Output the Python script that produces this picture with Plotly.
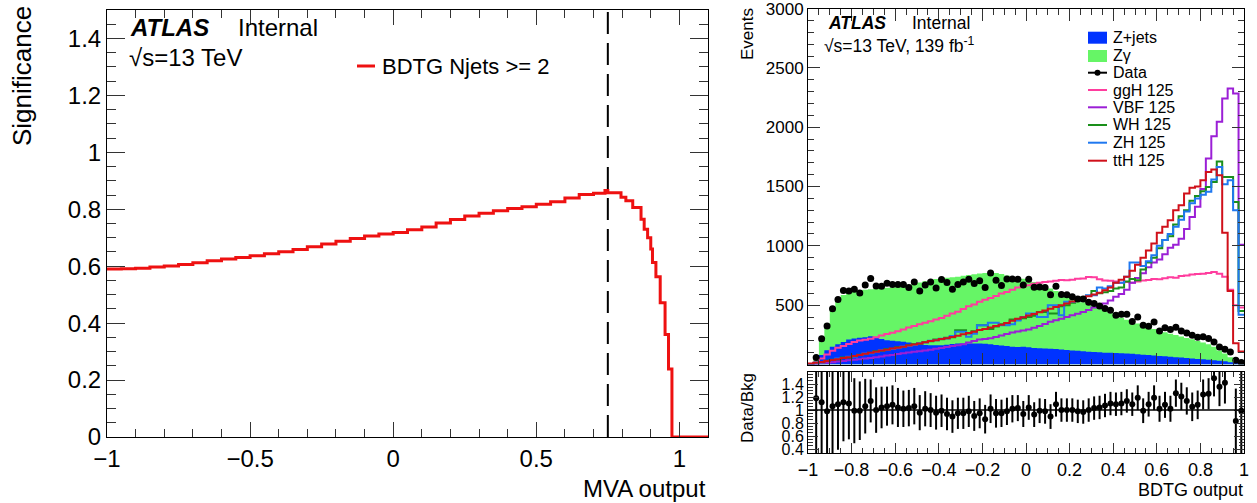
import numpy as np
import plotly.graph_objects as go

W, H = 1257, 503
def fx(p):
    return p / W
def fy(p):
    return 1 - p / H

FONT = "Liberation Sans, Arial, sans-serif"

# ---------------- left panel: significance vs cut ----------------
sig_cut = [-1.00, -0.95, -0.90, -0.85, -0.80, -0.75, -0.70, -0.65, -0.60, -0.55,
           -0.50, -0.45, -0.40, -0.35, -0.30, -0.25, -0.20, -0.15, -0.10, -0.05,
           0.00, 0.05, 0.10, 0.15, 0.20, 0.25, 0.30, 0.35, 0.40, 0.45,
           0.50, 0.55, 0.60, 0.65, 0.70, 0.74, 0.75, 0.796, 0.813, 0.837,
           0.866, 0.877, 0.889, 0.900, 0.906, 0.918, 0.933, 0.950, 0.962, 0.974,
           1.10]
sig_val = [0.590, 0.591, 0.593, 0.597, 0.601, 0.606, 0.612, 0.619, 0.625, 0.631,
           0.637, 0.644, 0.651, 0.659, 0.668, 0.678, 0.688, 0.697, 0.706, 0.713,
           0.718, 0.728, 0.738, 0.752, 0.764, 0.776, 0.786, 0.795, 0.803, 0.809,
           0.818, 0.826, 0.840, 0.852, 0.856, 0.866, 0.858, 0.842, 0.830, 0.806,
           0.765, 0.730, 0.700, 0.660, 0.613, 0.563, 0.472, 0.360, 0.239, 0.0,
           0.0]
best_cut = 0.75
left_legend = "BDTG Njets &gt;= 2"

# ---------------- right panel: BDTG output histograms ----------------
bin_lo, bin_hi, n_bins = -1.0, 1.0, 80

zjets = [0, 25, 80, 120, 150, 170, 190, 210, 219, 225,
         230, 238, 230, 215, 205, 200, 195, 191, 185, 178,
         170, 165, 163, 162, 163, 166, 172, 176, 178, 177,
         177, 177, 175, 170, 165, 160, 155, 150, 148, 150,
         145, 140, 138, 135, 132, 130, 126, 122, 118, 115,
         112, 108, 106, 104, 100, 98, 96, 94, 92, 90,
         86, 83, 80, 76, 72, 70, 66, 62, 58, 54,
         50, 47, 44, 40, 36, 32, 27, 20, 12, 5]

# top of the Z+jets + Zgamma stack
bkg_stack_top = [0, 45, 215, 345, 480, 550, 585, 605, 615, 625,
                 630, 635, 638, 642, 646, 650, 655, 662, 672, 682,
                 692, 702, 712, 720, 726, 732, 736, 740, 748, 754,
                 760, 766, 772, 778, 772, 762, 750, 738, 728, 722,
                 712, 695, 675, 655, 640, 620, 600, 582, 565, 548,
                 525, 505, 488, 470, 452, 432, 412, 395, 378, 362,
                 346, 330, 315, 300, 286, 272, 260, 248, 236, 224,
                 212, 198, 185, 170, 150, 118, 92, 62, 42, 17]

data = [None, 59, 216, 325, 469, 548, 623, 620, 634, 603,
        671, 724, 662, 660, 685, 674, 674, 674, 649, 696,
        620, 671, 696, 645, 716, 691, 634, 674, 696, 719,
        683, 705, 649, 772, 710, 666, 721, 721, 719, 671,
        719, 651, 654, 649, 587, 660, 590, 587, 570, 553,
        553, 525, 515, 494, 472, 458, 415, 424, 424, 362,
        401, 331, 323, 359, 283, 309, 295, 314, 283, 266,
        247, 230, 233, 219, 190, 148, 129, 106, 36, 17]

ggH = [0, 15, 50, 85, 115, 142, 155, 172, 190, 202,
       208, 218, 230, 245, 258, 268, 280, 295, 312, 325,
       340, 352, 365, 380, 392, 410, 430, 445, 468, 490,
       505, 528, 545, 560, 578, 598, 612, 630, 650, 660,
       668, 680, 690, 695, 700, 705, 712, 710, 715, 722,
       725, 738, 735, 718, 708, 705, 700, 690, 695, 688,
       700, 708, 712, 720, 718, 728, 735, 732, 745, 750,
       758, 762, 765, 772, 780, 765, 740, 630, 500, 480]

VBF = [0, 5, 10, 15, 20, 25, 30, 35, 40, 45,
       50, 55, 62, 68, 75, 80, 88, 95, 102, 108,
       112, 118, 125, 132, 140, 148, 155, 162, 170, 185,
       198, 210, 215, 222, 232, 245, 258, 270, 278, 286,
       295, 310, 325, 342, 360, 372, 385, 400, 415, 428,
       442, 460, 480, 495, 515, 540, 570, 595, 630, 690,
       730, 770, 820, 860, 885, 930, 985, 1010, 1060, 1143,
       1243, 1329, 1480, 1736, 1924, 2045, 2241, 2326, 2284, 1010]

WH = [5, 12, 20, 32, 40, 45, 58, 60, 70, 82,
      88, 100, 112, 115, 128, 132, 145, 148, 162, 170,
      175, 190, 195, 210, 212, 225, 230, 289, 289, 262,
      280, 331, 331, 300, 320, 340, 345, 379, 379, 390,
      400, 410, 443, 443, 430, 430, 490, 500, 520, 560,
      565, 580, 620, 600, 610, 620, 640, 650, 700, 720,
      710, 800, 860, 900, 980, 1050, 1080, 1180, 1250, 1300,
      1380, 1420, 1460, 1497, 1539, 1710, 1581, 1581, 1370, 450]

ZH = [5, 10, 18, 30, 38, 50, 55, 65, 68, 80,
      92, 95, 105, 120, 122, 130, 140, 152, 155, 165,
      180, 185, 200, 205, 218, 220, 240, 275, 275, 233,
      260, 331, 331, 351, 351, 331, 331, 340, 370, 400,
      430, 430, 401, 401, 500, 500, 415, 528, 528, 540,
      560, 584, 584, 650, 640, 660, 690, 690, 740, 860,
      860, 830, 870, 920, 1000, 1050, 1100, 1160, 1220, 1290,
      1360, 1400, 1430, 1455, 1560, 1665, 1520, 1553, 1300, 420]

ttH = [8, 15, 22, 30, 38, 45, 55, 62, 72, 80,
       90, 100, 108, 117, 125, 135, 142, 150, 160, 168,
       178, 188, 198, 205, 215, 222, 232, 242, 255, 265,
       275, 290, 300, 312, 325, 335, 350, 368, 385, 398,
       412, 425, 440, 455, 470, 485, 500, 515, 530, 545,
       560, 575, 590, 605, 625, 650, 690, 715, 740, 790,
       840, 900, 960, 1020, 1110, 1160, 1216, 1300, 1342, 1441,
       1490, 1500, 1553, 1623, 1643, 1595, 1110, 620, 180, 110]

ratio = [None, 1.18, 1.12, 0.98, 1.06, 1.09, 1.12, 1.10, 0.99, 0.99,
         1.06, 1.14, 1.00, 1.04, 1.06, 1.08, 1.04, 1.02, 1.03, 1.06,
         0.96, 1.02, 1.00, 0.96, 0.99, 0.94, 0.90, 0.95, 0.95, 0.98,
         0.91, 0.95, 0.86, 1.02, 0.95, 0.95, 0.98, 1.02, 1.03, 0.94,
         1.04, 0.93, 0.99, 0.98, 0.90, 1.09, 1.00, 1.00, 1.00, 0.98,
         0.97, 1.00, 1.03, 1.04, 1.07, 1.10, 1.09, 1.10, 1.14, 1.09,
         1.19, 0.99, 1.09, 1.19, 1.02, 1.08, 1.02, 1.26, 1.21, 1.14,
         1.05, 1.08, 1.24, 1.25, 1.49, 1.36, 1.42, None, 0.83, 0.99]

ratio_err = [0, 0.9, 0.9, 0.9, 0.9, 0.7, 0.6, 0.55, 0.5, 0.45,
             0.42, 0.33, 0.35, 0.32, 0.30, 0.30, 0.30, 0.28, 0.28, 0.28,
             0.27, 0.27, 0.26, 0.26, 0.25, 0.25, 0.25, 0.24, 0.24, 0.24,
             0.23, 0.23, 0.22, 0.22, 0.22, 0.21, 0.21, 0.21, 0.20, 0.20,
             0.19, 0.19, 0.19, 0.19, 0.19, 0.19, 0.18, 0.18, 0.18, 0.18,
             0.18, 0.18, 0.18, 0.18, 0.18, 0.18, 0.18, 0.18, 0.18, 0.18,
             0.19, 0.19, 0.19, 0.19, 0.20, 0.20, 0.20, 0.21, 0.21, 0.21,
             0.22, 0.22, 0.23, 0.24, 0.28, 0.30, 0.32, 0.30, 0.50, 0.90]

signals = [("ggH 125", ggH, "#ff3d9e"),
           ("VBF 125", VBF, "#9b1fd6"),
           ("WH 125", WH, "#1a8f1a"),
           ("ZH 125", ZH, "#1f78f0"),
           ("ttH 125", ttH, "#d0101a")]
c_zjets = "#0033ff"
c_zgam = "#66f566"

edges = np.linspace(bin_lo, bin_hi, n_bins + 1)
centers = 0.5 * (edges[:-1] + edges[1:])

def step_y(vals):
    return list(vals) + [vals[-1]]

fig = go.Figure()

# left
fig.add_trace(go.Scatter(x=sig_cut, y=sig_val, mode="lines",
                         line=dict(color="#ee1111", width=3, shape="hv"),
                         xaxis="x", yaxis="y", showlegend=False))

# right upper: stacked backgrounds
fig.add_trace(go.Scatter(x=edges, y=step_y(bkg_stack_top), mode="lines", fill="tozeroy",
                         fillcolor=c_zgam, line=dict(width=0, shape="hv", color=c_zgam),
                         xaxis="x2", yaxis="y2", showlegend=False))
fig.add_trace(go.Scatter(x=edges, y=step_y(zjets), mode="lines", fill="tozeroy",
                         fillcolor=c_zjets, line=dict(width=0, shape="hv", color=c_zjets),
                         xaxis="x2", yaxis="y2", showlegend=False))
for name, vals, col in signals:
    fig.add_trace(go.Scatter(x=edges, y=step_y(vals), mode="lines",
                             line=dict(color=col, width=2, shape="hv"),
                             xaxis="x2", yaxis="y2", showlegend=False))
fig.add_trace(go.Scatter(x=centers, y=data, mode="markers",
                         marker=dict(color="black", size=7),
                         xaxis="x2", yaxis="y2", showlegend=False))

# ratio
fig.add_trace(go.Scatter(x=centers, y=ratio, mode="markers",
                         marker=dict(color="black", size=6),
                         error_y=dict(type="data", array=ratio_err, color="black",
                                      thickness=2, width=0),
                         xaxis="x3", yaxis="y3", showlegend=False))

axis_common = dict(showgrid=False, zeroline=False, showline=True, linecolor="black",
                   linewidth=1, mirror="allticks", ticks="inside", tickcolor="#333",
                   tickwidth=1, automargin=False, ticklabeloverflow="allow")

fig.update_layout(
    template="none",
    width=W, height=H, margin=dict(l=0, r=0, t=0, b=0, pad=0), autosize=False,
    paper_bgcolor="white", plot_bgcolor="white",
    font=dict(family=FONT, color="black"),
    xaxis=dict(domain=[fx(107), fx(708)], range=[-1, 1.1], anchor="y",
               dtick=0.5, tick0=0, ticklen=15,
               minor=dict(dtick=0.1, ticklen=8, ticks="inside", tickcolor="#333"),
               tickfont=dict(size=24), **axis_common),
    yaxis=dict(domain=[fy(437), fy(10)], range=[0, 1.5], anchor="x",
               dtick=0.2, tick0=0, ticklen=18,
               minor=dict(dtick=0.05, ticklen=9, ticks="inside", tickcolor="#333"),
               tickfont=dict(size=24), **axis_common),
    xaxis2=dict(domain=[fx(808), fx(1244)], range=[bin_lo, bin_hi], anchor="y2",
                dtick=0.2, tick0=0, ticklen=12, showticklabels=False,
                minor=dict(dtick=0.05, ticklen=6, ticks="inside", tickcolor="#333"),
                **axis_common),
    yaxis2=dict(domain=[fy(364.5), fy(8.5)], range=[0, 3000.5], anchor="x2",
                tickvals=[500, 1000, 1500, 2000, 2500, 3000], ticklen=12,
                minor=dict(dtick=100, ticklen=6, ticks="inside", tickcolor="#333"),
                tickfont=dict(size=17), **axis_common),
    xaxis3=dict(domain=[fx(808), fx(1244)], range=[bin_lo, bin_hi], anchor="y3",
                dtick=0.2, tick0=0, ticklen=10,
                minor=dict(dtick=0.05, ticklen=5, ticks="inside", tickcolor="#333"),
                tickfont=dict(size=18), **axis_common),
    yaxis3=dict(domain=[fy(453), fy(372)], range=[0.34, 1.585], anchor="x3",
                tickvals=[0.4, 0.6, 0.8, 1.0, 1.2, 1.4],
                ticktext=["0.4", "0.6", "0.8", "1", "1.2", "1.4"], ticklen=10,
                minor=dict(dtick=0.05, ticklen=5, ticks="inside", tickcolor="#333"),
                tickfont=dict(size=16), **axis_common),
)

shapes = []
# best cut dashed line
shapes.append(dict(type="line", xref="x", yref="y", x0=best_cut, x1=best_cut, y0=0, y1=1.5,
                   line=dict(color="black", width=2, dash="22px,9px")))
# ratio reference line
shapes.append(dict(type="line", xref="x3 domain", yref="y3", x0=0, x1=1, y0=1, y1=1,
                   line=dict(color="black", width=1.5)))
# left legend line
shapes.append(dict(type="line", xref="paper", yref="paper", x0=fx(357), x1=fx(375),
                   y0=fy(66), y1=fy(66), line=dict(color="#ee1111", width=3)))

annotations = []
def ann(text, x, y, size, xanchor="left", yanchor="middle", angle=0):
    annotations.append(dict(text=text, x=fx(x), y=fy(y), xref="paper", yref="paper",
                            xanchor=xanchor, yanchor=yanchor, textangle=angle,
                            showarrow=False, font=dict(size=size, family=FONT, color="black")))

ann("Significance", 22, 4, 26, xanchor="center", yanchor="top", angle=-90)
ann("MVA output", 708, 488, 24, xanchor="right")
ann("<b><i>ATLAS</i></b>", 128, 27, 24)
ann("Internal", 236, 27, 24)
ann("√s=13 TeV", 127, 57, 24)
ann(left_legend, 380, 66, 22)

ann("Events", 747, 6, 17, xanchor="center", yanchor="top", angle=-90)
ann("Data/Bkg", 747, 408, 17, xanchor="center", angle=-90)
ann("BDTG output", 1245, 490, 18, xanchor="right")
ann("<b><i>ATLAS</i></b>", 826, 23, 17.5)
ann("Internal", 910, 23, 17.5)
ann("√s=13 TeV, 139 fb<sup>-1</sup>", 822, 45, 17.5)

# right legend
leg_y = {"Z+jets": 37.7, "Zγ": 56, "Data": 72.7, "ggH 125": 90, "VBF 125": 107.3,
         "WH 125": 125, "ZH 125": 142.7, "ttH 125": 160.7}
for name, col in [("Z+jets", c_zjets), ("Zγ", c_zgam)]:
    yy = leg_y[name]
    shapes.append(dict(type="rect", xref="paper", yref="paper", x0=fx(1088), x1=fx(1107),
                       y0=fy(yy + 6), y1=fy(yy - 6), fillcolor=col, line=dict(width=0)))
    ann(name, 1111, yy, 16)
yy = leg_y["Data"]
shapes.append(dict(type="line", xref="paper", yref="paper", x0=fx(1088), x1=fx(1107),
                   y0=fy(yy), y1=fy(yy), line=dict(color="black", width=2)))
shapes.append(dict(type="circle", xref="paper", yref="paper", x0=fx(1094.5), x1=fx(1100.5),
                   y0=fy(yy + 3), y1=fy(yy - 3), fillcolor="black", line=dict(width=0)))
ann("Data", 1111, yy, 16)
for name, vals, col in signals:
    yy = leg_y[name]
    shapes.append(dict(type="line", xref="paper", yref="paper", x0=fx(1088), x1=fx(1107),
                       y0=fy(yy), y1=fy(yy), line=dict(color=col, width=2)))
    ann(name, 1111, yy, 16)

fig.update_layout(shapes=shapes, annotations=annotations)
fig.write_html("out.html")
